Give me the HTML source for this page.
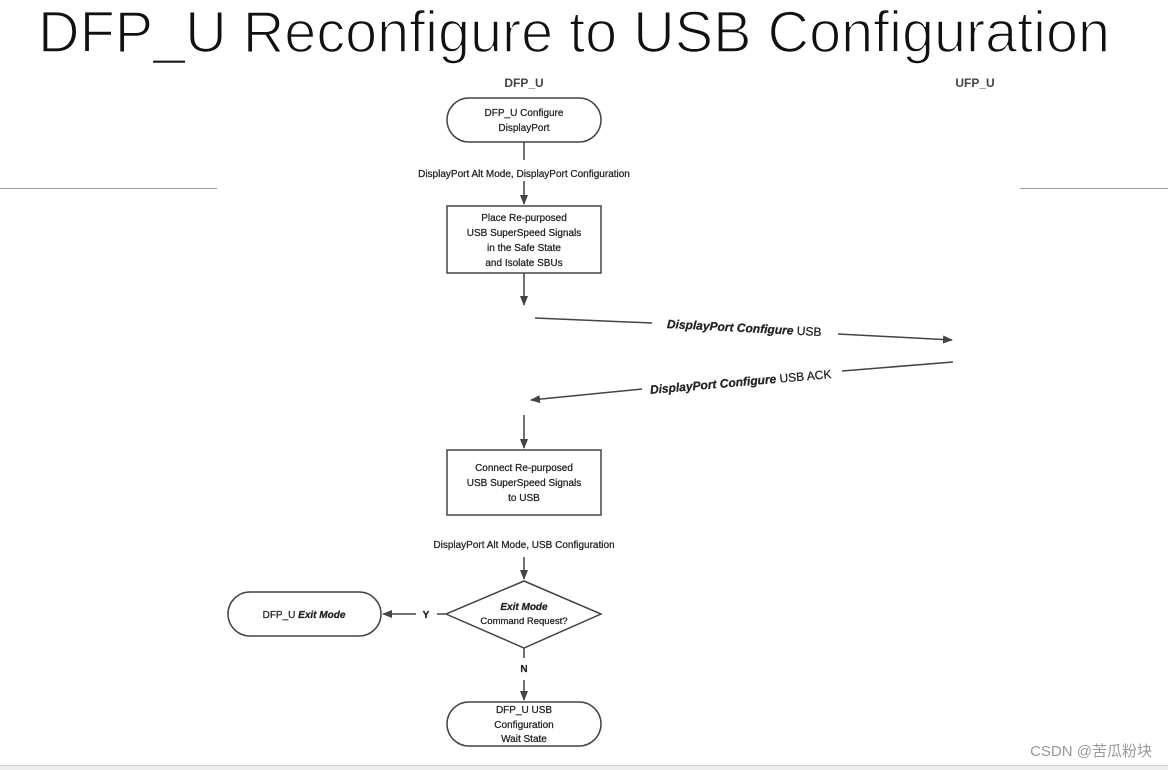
<!DOCTYPE html>
<html><head><meta charset="utf-8"><style>
html,body{margin:0;padding:0;background:#fff;width:1168px;height:770px;overflow:hidden}
svg{display:block}
</style></head><body>
<svg width="1168" height="770" xmlns="http://www.w3.org/2000/svg" font-family="Liberation Sans, sans-serif">
<defs><marker id="a" markerWidth="10" markerHeight="8" refX="9" refY="4" orient="auto" markerUnits="userSpaceOnUse"><path d="M0,0 L10,4 L0,8 z" fill="#444"/></marker></defs>
<text x="574" y="52" text-anchor="middle" font-size="58" fill="#111" stroke="#fff" stroke-width="1.6" font-family="Liberation Sans, sans-serif" textLength="1072" lengthAdjust="spacingAndGlyphs">DFP_U Reconfigure to USB Configuration</text>
<line x1="0" y1="188.5" x2="217" y2="188.5" stroke="#999"/>
<line x1="1020" y1="188.5" x2="1168" y2="188.5" stroke="#999"/>
<g fill="#333" font-size="11">
<text x="524" y="87" text-anchor="middle" font-weight="bold" font-size="12" fill="#444">DFP_U</text>
<text x="975" y="87" text-anchor="middle" font-weight="bold" font-size="12" fill="#444">UFP_U</text>
</g>
<g stroke="#444" stroke-width="1.5" fill="#fff">
<rect x="447" y="98" width="154" height="44" rx="22"/>
<line x1="524" y1="142" x2="524" y2="160"/>
<line x1="524" y1="181" x2="524" y2="204" marker-end="url(#a)"/>
<rect x="447" y="206" width="154" height="67"/>
<line x1="524" y1="273" x2="524" y2="305" marker-end="url(#a)"/>
<line x1="535" y1="318" x2="652" y2="323"/>
<line x1="838" y1="334" x2="952" y2="340" marker-end="url(#a)"/>
<line x1="953" y1="362" x2="842" y2="371"/>
<line x1="642" y1="389" x2="531" y2="400" marker-end="url(#a)"/>
<line x1="524" y1="415" x2="524" y2="448" marker-end="url(#a)"/>
<rect x="447" y="450" width="154" height="65"/>
<line x1="524" y1="557" x2="524" y2="579" marker-end="url(#a)"/>
<polygon points="524,581 601,614 524,648 446,614"/>
<line x1="446" y1="614" x2="437" y2="614"/>
<line x1="416" y1="614" x2="383" y2="614" marker-end="url(#a)"/>
<rect x="228" y="592" width="153" height="44" rx="22"/>
<line x1="524" y1="648" x2="524" y2="658"/>
<line x1="524" y1="680" x2="524" y2="700" marker-end="url(#a)"/>
<rect x="447" y="702" width="154" height="44" rx="22"/>
</g>
<g fill="#222" font-size="10" text-anchor="middle" stroke="#222" stroke-width="0.25">
<text x="524" y="116">DFP_U Configure</text>
<text x="524" y="131">DisplayPort</text>
<text x="524" y="177">DisplayPort Alt Mode, DisplayPort Configuration</text>
<text x="524" y="221">Place Re-purposed</text>
<text x="524" y="236">USB SuperSpeed Signals</text>
<text x="524" y="251">in the Safe State</text>
<text x="524" y="266">and Isolate SBUs</text>
<text x="744" y="332" font-size="12" transform="rotate(3 744 332)"><tspan font-weight="bold" font-style="italic">DisplayPort Configure</tspan> USB</text>
<text x="741" y="386" font-size="12" transform="rotate(-5 741 386)"><tspan font-weight="bold" font-style="italic">DisplayPort Configure</tspan> USB ACK</text>
<text x="524" y="471">Connect Re-purposed</text>
<text x="524" y="486">USB SuperSpeed Signals</text>
<text x="524" y="501">to USB</text>
<text x="524" y="548">DisplayPort Alt Mode, USB Configuration</text>
<text x="524" y="610" font-weight="bold" font-style="italic">Exit Mode</text>
<text x="524" y="624" font-size="9.5">Command Request?</text>
<text x="426" y="618" font-weight="bold">Y</text>
<text x="304" y="618">DFP_U <tspan font-weight="bold" font-style="italic">Exit Mode</tspan></text>
<text x="524" y="672" font-weight="bold">N</text>
<text x="524" y="713">DFP_U USB</text>
<text x="524" y="728">Configuration</text>
<text x="524" y="742">Wait State</text>
</g>
<text x="1152" y="756" text-anchor="end" font-size="15" fill="#999" font-family="Liberation Sans, Noto Sans CJK SC, sans-serif">CSDN @苦瓜粉块</text>
<rect x="0" y="765" width="1168" height="5" fill="#eee"/>
<line x1="0" y1="765.5" x2="1168" y2="765.5" stroke="#ccc"/>
</svg>
</body></html>
